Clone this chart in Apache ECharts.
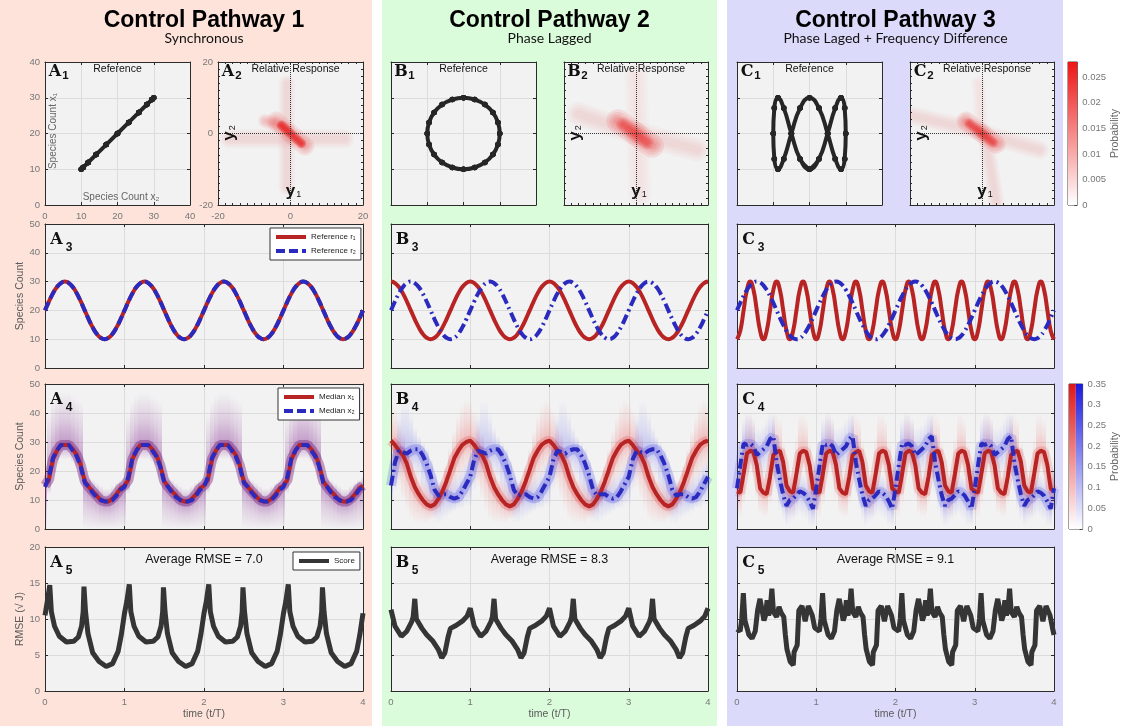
<!DOCTYPE html>
<html>
<head>
<meta charset="utf-8">
<script src="https://cdn.jsdelivr.net/npm/echarts@6/dist/echarts.min.js"></script>
<style>
html, body { margin: 0; padding: 0; background: #fff; }
#chart { width: 1122px; height: 726px; }
</style>
</head>
<body>
<div id="chart"></div>
<script>
// ---------- time grids (t/T) ----------
function steps(dt, n) {
	var out = [];
	for (var i = 0; i <= n; i++) out.push(+(i * dt).toFixed(4));
	return out;
}
var tFine = steps(0.05, 80);     // 0..4, used by A and B rows
var tC = steps(1 / 24, 96);      // 0..4, used by the C rows

// ---------- references r1, r2 ----------
var refA_r1 = [
	20, 23.1, 25.9, 28.1, 29.5, 30, 29.5, 28.1, 25.9, 23.1, 20, 16.9, 14.1, 11.9, 10.5, 10, 10.5, 11.9, 14.1, 16.9,
	20, 23.1, 25.9, 28.1, 29.5, 30, 29.5, 28.1, 25.9, 23.1, 20, 16.9, 14.1, 11.9, 10.5, 10, 10.5, 11.9, 14.1, 16.9,
	20, 23.1, 25.9, 28.1, 29.5, 30, 29.5, 28.1, 25.9, 23.1, 20, 16.9, 14.1, 11.9, 10.5, 10, 10.5, 11.9, 14.1, 16.9,
	20, 23.1, 25.9, 28.1, 29.5, 30, 29.5, 28.1, 25.9, 23.1, 20, 16.9, 14.1, 11.9, 10.5, 10, 10.5, 11.9, 14.1, 16.9,
	20
];
var refA_r2 = refA_r1.slice();
var refB_r1 = [
	30, 29.5, 28.1, 25.9, 23.1, 20, 16.9, 14.1, 11.9, 10.5, 10, 10.5, 11.9, 14.1, 16.9, 20, 23.1, 25.9, 28.1, 29.5,
	30, 29.5, 28.1, 25.9, 23.1, 20, 16.9, 14.1, 11.9, 10.5, 10, 10.5, 11.9, 14.1, 16.9, 20, 23.1, 25.9, 28.1, 29.5,
	30, 29.5, 28.1, 25.9, 23.1, 20, 16.9, 14.1, 11.9, 10.5, 10, 10.5, 11.9, 14.1, 16.9, 20, 23.1, 25.9, 28.1, 29.5,
	30, 29.5, 28.1, 25.9, 23.1, 20, 16.9, 14.1, 11.9, 10.5, 10, 10.5, 11.9, 14.1, 16.9, 20, 23.1, 25.9, 28.1, 29.5,
	30
];
var refB_r2 = refA_r1.slice();
var refC_r1 = [
	10, 12.9, 20, 27.1, 30, 27.1, 20, 12.9, 10, 12.9, 20, 27.1, 30, 27.1, 20, 12.9, 10, 12.9, 20, 27.1, 30, 27.1, 20, 12.9,
	10, 12.9, 20, 27.1, 30, 27.1, 20, 12.9, 10, 12.9, 20, 27.1, 30, 27.1, 20, 12.9, 10, 12.9, 20, 27.1, 30, 27.1, 20, 12.9,
	10, 12.9, 20, 27.1, 30, 27.1, 20, 12.9, 10, 12.9, 20, 27.1, 30, 27.1, 20, 12.9, 10, 12.9, 20, 27.1, 30, 27.1, 20, 12.9,
	10, 12.9, 20, 27.1, 30, 27.1, 20, 12.9, 10, 12.9, 20, 27.1, 30, 27.1, 20, 12.9, 10, 12.9, 20, 27.1, 30, 27.1, 20, 12.9,
	10
];
var refC_r2 = [
	20, 22.6, 25, 27.1, 28.7, 29.7, 30, 29.7, 28.7, 27.1, 25, 22.6, 20, 17.4, 15, 12.9, 11.3, 10.3, 10, 10.3, 11.3, 12.9, 15, 17.4,
	20, 22.6, 25, 27.1, 28.7, 29.7, 30, 29.7, 28.7, 27.1, 25, 22.6, 20, 17.4, 15, 12.9, 11.3, 10.3, 10, 10.3, 11.3, 12.9, 15, 17.4,
	20, 22.6, 25, 27.1, 28.7, 29.7, 30, 29.7, 28.7, 27.1, 25, 22.6, 20, 17.4, 15, 12.9, 11.3, 10.3, 10, 10.3, 11.3, 12.9, 15, 17.4,
	20, 22.6, 25, 27.1, 28.7, 29.7, 30, 29.7, 28.7, 27.1, 25, 22.6, 20, 17.4, 15, 12.9, 11.3, 10.3, 10, 10.3, 11.3, 12.9, 15, 17.4,
	20
];

// ---------- medians x1, x2 and their spread (lo / hi) ----------
var medA_x1 = [
	15, 17, 24, 27, 29, 29, 29, 27.5, 25.5, 22, 16.5, 14.5, 13, 11.5, 10, 9.5, 9.5, 10.5, 12, 14,
	15, 17, 24, 27, 29, 29, 29, 27.5, 25.5, 22, 16.5, 14.5, 13, 11.5, 10, 9.5, 9.5, 10.5, 12, 14,
	15, 17, 24, 27, 29, 29, 29, 27.5, 25.5, 22, 16.5, 14.5, 13, 11.5, 10, 9.5, 9.5, 10.5, 12, 14,
	15, 17, 24, 27, 29, 29, 29, 27.5, 25.5, 22, 16.5, 14.5, 13, 11.5, 10, 9.5, 9.5, 10.5, 12, 14,
	15
];
var medA_x2 = [
	14.5, 18, 24.5, 27, 29, 29, 29, 27, 25, 21.5, 16, 14.5, 12.5, 11, 10, 9.5, 9.5, 10, 11.5, 13.5,
	14.5, 18, 24.5, 27, 29, 29, 29, 27, 25, 21.5, 16, 14.5, 12.5, 11, 10, 9.5, 9.5, 10, 11.5, 13.5,
	14.5, 18, 24.5, 27, 29, 29, 29, 27, 25, 21.5, 16, 14.5, 12.5, 11, 10, 9.5, 9.5, 10, 11.5, 13.5,
	14.5, 18, 24.5, 27, 29, 29, 29, 27, 25, 21.5, 16, 14.5, 12.5, 11, 10, 9.5, 9.5, 10, 11.5, 13.5,
	14.5
];
var spreadA_lo = [
	0, 12, 19, 22, 24, 24, 24, 23, 21, 17, 0, 0, 0, 0, 0, 0, 0, 0, 0, 0,
	0, 12, 19, 22, 24, 24, 24, 23, 21, 17, 0, 0, 0, 0, 0, 0, 0, 0, 0, 0,
	0, 12, 19, 22, 24, 24, 24, 23, 21, 17, 0, 0, 0, 0, 0, 0, 0, 0, 0, 0,
	0, 12, 19, 22, 24, 24, 24, 23, 21, 17, 0, 0, 0, 0, 0, 0, 0, 0, 0, 0,
	0
];
var spreadA_hi = [
	18, 40, 44, 46, 47, 47, 47, 46, 45, 44, 19, 18, 17, 16, 15, 14, 14, 15, 16, 17,
	18, 40, 44, 46, 47, 47, 47, 46, 45, 44, 19, 18, 17, 16, 15, 14, 14, 15, 16, 17,
	18, 40, 44, 46, 47, 47, 47, 46, 45, 44, 19, 18, 17, 16, 15, 14, 14, 15, 16, 17,
	18, 40, 44, 46, 47, 47, 47, 46, 45, 44, 19, 18, 17, 16, 15, 14, 14, 15, 16, 17,
	18
];

var medB_x1 = [
	30.5, 29, 27, 25.5, 22.5, 18, 14.5, 12, 10, 8.5, 7.8, 8.5, 10.5, 13, 16.5, 20.5, 24.5, 27, 29, 30,
	30.5, 29, 27, 25.5, 22.5, 18, 14.5, 12, 10, 8.5, 7.8, 8.5, 10.5, 13, 16.5, 20.5, 24.5, 27, 29, 30,
	30.5, 29, 27, 25.5, 22.5, 18, 14.5, 12, 10, 8.5, 7.8, 8.5, 10.5, 13, 16.5, 20.5, 24.5, 27, 29, 30,
	30.5, 29, 27, 25.5, 22.5, 18, 14.5, 12, 10, 8.5, 7.8, 8.5, 10.5, 13, 16.5, 20.5, 24.5, 27, 29, 30,
	30.5
];
var medB_x2 = [
	15, 23, 27, 26.5, 26, 27, 27.5, 27.5, 25.5, 22.5, 18.5, 13.5, 11.5, 12, 12, 11, 10.5, 11, 13, 15.5,
	18, 24, 27, 26.5, 26, 27, 27.5, 27.5, 25.5, 22.5, 18.5, 13.5, 11.5, 12, 12, 11, 10.5, 11, 13, 15.5,
	18, 24, 27, 26.5, 26, 27, 27.5, 27.5, 25.5, 22.5, 18.5, 13.5, 11.5, 12, 12, 11, 10.5, 11, 13, 15.5,
	18, 24, 27, 26.5, 26, 27, 27.5, 27.5, 25.5, 22.5, 18.5, 13.5, 11.5, 12, 12, 11, 10.5, 11, 13, 15.5,
	18
];
var spreadB1_lo = [
	20, 17, 14, 10, 6, 3, 2, 2, 2, 2, 3, 4, 5, 7, 9, 11, 13, 16, 18, 20,
	20, 17, 14, 10, 6, 3, 2, 2, 2, 2, 3, 4, 5, 7, 9, 11, 13, 16, 18, 20,
	20, 17, 14, 10, 6, 3, 2, 2, 2, 2, 3, 4, 5, 7, 9, 11, 13, 16, 18, 20,
	20, 17, 14, 10, 6, 3, 2, 2, 2, 2, 3, 4, 5, 7, 9, 11, 13, 16, 18, 20,
	20
];
var spreadB1_hi = [
	44, 41, 37, 33, 29, 25, 21, 18, 17, 16, 16, 16, 16, 17, 22, 28, 34, 39, 43, 45,
	44, 41, 37, 33, 29, 25, 21, 18, 17, 16, 16, 16, 16, 17, 22, 28, 34, 39, 43, 45,
	44, 41, 37, 33, 29, 25, 21, 18, 17, 16, 16, 16, 16, 17, 22, 28, 34, 39, 43, 45,
	44, 41, 37, 33, 29, 25, 21, 18, 17, 16, 16, 16, 16, 17, 22, 28, 34, 39, 43, 45,
	44
];
var spreadB2_lo = [
	8, 13, 17, 19, 20, 20, 19, 17, 12, 8, 4, 2, 2, 3, 4, 5, 6, 7, 7, 8,
	8, 13, 17, 19, 20, 20, 19, 17, 12, 8, 4, 2, 2, 3, 4, 5, 6, 7, 7, 8,
	8, 13, 17, 19, 20, 20, 19, 17, 12, 8, 4, 2, 2, 3, 4, 5, 6, 7, 7, 8,
	8, 13, 17, 19, 20, 20, 19, 17, 12, 8, 4, 2, 2, 3, 4, 5, 6, 7, 7, 8,
	8
];
var spreadB2_hi = [
	24, 32, 40, 44, 44, 40, 35, 32, 30, 28, 24, 19, 17, 16, 16, 17, 18, 19, 21, 23,
	24, 32, 40, 44, 44, 40, 35, 32, 30, 28, 24, 19, 17, 16, 16, 17, 18, 19, 21, 23,
	24, 32, 40, 44, 44, 40, 35, 32, 30, 28, 24, 19, 17, 16, 16, 17, 18, 19, 21, 23,
	24, 32, 40, 44, 44, 40, 35, 32, 30, 28, 24, 19, 17, 16, 16, 17, 18, 19, 21, 23,
	24
];

var medC_x1 = [
	13, 12.5, 19, 26, 27, 26.5, 22, 14, 12.5, 12, 18, 25.5, 26.5, 27, 23, 15, 13, 12.5, 19, 26, 27, 26.5, 22, 14,
	13, 12.5, 19, 26, 27, 26.5, 22, 14, 12.5, 12, 18, 25.5, 26.5, 27, 23, 15, 13, 12.5, 19, 26, 27, 26.5, 22, 14,
	13, 12.5, 19, 26, 27, 26.5, 22, 14, 12.5, 12, 18, 25.5, 26.5, 27, 23, 15, 13, 12.5, 19, 26, 27, 26.5, 22, 14,
	13, 12.5, 19, 26, 27, 26.5, 22, 14, 12.5, 12, 18, 25.5, 26.5, 27, 23, 15, 13, 12.5, 19, 26, 27, 26.5, 22, 14,
	13
];
var spreadC1_lo = [
	4, 4, 8, 18, 20, 18, 10, 5, 4, 4, 8, 18, 20, 18, 10, 5, 4, 4, 8, 18, 20, 18, 10, 5,
	4, 4, 8, 18, 20, 18, 10, 5, 4, 4, 8, 18, 20, 18, 10, 5, 4, 4, 8, 18, 20, 18, 10, 5,
	4, 4, 8, 18, 20, 18, 10, 5, 4, 4, 8, 18, 20, 18, 10, 5, 4, 4, 8, 18, 20, 18, 10, 5,
	4, 4, 8, 18, 20, 18, 10, 5, 4, 4, 8, 18, 20, 18, 10, 5, 4, 4, 8, 18, 20, 18, 10, 5,
	4
];
var spreadC1_hi = [
	18, 20, 32, 40, 40, 38, 30, 20, 18, 20, 32, 40, 40, 38, 30, 20, 18, 20, 32, 40, 40, 38, 30, 20,
	18, 20, 32, 40, 40, 38, 30, 20, 18, 20, 32, 40, 40, 38, 30, 20, 18, 20, 32, 40, 40, 38, 30, 20,
	18, 20, 32, 40, 40, 38, 30, 20, 18, 20, 32, 40, 40, 38, 30, 20, 18, 20, 32, 40, 40, 38, 30, 20,
	18, 20, 32, 40, 40, 38, 30, 20, 18, 20, 32, 40, 40, 38, 30, 20, 18, 20, 32, 40, 40, 38, 30, 20,
	18
];
var medC_x2 = [
	14, 22, 29.5, 29, 29.5, 28.5, 25.5, 26.5, 27.5, 28.5, 31, 32, 23, 17, 11.7, 8, 10, 10.5, 11.7, 13, 12.5, 11.5, 9.5, 7,
	14, 22, 29.5, 29, 29.5, 28.5, 25.5, 26.5, 27.5, 28.5, 31, 32, 23, 17, 11.7, 8, 10, 10.5, 11.7, 13, 12.5, 11.5, 9.5, 7,
	14, 22, 29.5, 29, 29.5, 28.5, 25.5, 26.5, 27.5, 28.5, 31, 32, 23, 17, 11.7, 8, 10, 10.5, 11.7, 13, 12.5, 11.5, 9.5, 7,
	14, 22, 29.5, 29, 29.5, 28.5, 25.5, 26.5, 27.5, 28.5, 31, 32, 23, 17, 11.7, 8, 10, 10.5, 11.7, 13, 12.5, 11.5, 9.5, 7,
	14
];
var spreadC2_lo = [
	6, 10, 16, 20, 22, 20, 18, 18, 18, 20, 22, 22, 12, 6, 3, 1, 2, 3, 4, 5, 4, 3, 1, 1,
	6, 10, 16, 20, 22, 20, 18, 18, 18, 20, 22, 22, 12, 6, 3, 1, 2, 3, 4, 5, 4, 3, 1, 1,
	6, 10, 16, 20, 22, 20, 18, 18, 18, 20, 22, 22, 12, 6, 3, 1, 2, 3, 4, 5, 4, 3, 1, 1,
	6, 10, 16, 20, 22, 20, 18, 18, 18, 20, 22, 22, 12, 6, 3, 1, 2, 3, 4, 5, 4, 3, 1, 1,
	6
];
var spreadC2_hi = [
	22, 30, 38, 40, 40, 38, 35, 35, 36, 38, 40, 40, 32, 26, 18, 15, 16, 17, 18, 19, 19, 18, 17, 16,
	22, 30, 38, 40, 40, 38, 35, 35, 36, 38, 40, 40, 32, 26, 18, 15, 16, 17, 18, 19, 19, 18, 17, 16,
	22, 30, 38, 40, 40, 38, 35, 35, 36, 38, 40, 40, 32, 26, 18, 15, 16, 17, 18, 19, 19, 18, 17, 16,
	22, 30, 38, 40, 40, 38, 35, 35, 36, 38, 40, 40, 32, 26, 18, 15, 16, 17, 18, 19, 19, 18, 17, 16,
	22
];

// ---------- relative response ridges: [y1a, y2a, y1b, y2b, probability, spread] ----------
var relA = [
	[-17, -1.5, 15, -1.5, 0.003, 4],
	[-1, 14, -1, -15, 0.003, 3.5],
	[-7, 3.5, -1, 1.2, 0.006, 3],
	[-4, 3.5, 4, -3.5, 0.008, 4],
	[-2.5, 2.3, 3, -2.8, 0.027, 2]
];
var relB = [
	[-16, 5.5, 0, 0, 0.003, 5],
	[0, 0, 17, -4.5, 0.003, 5],
	[0, 16, 1, -17, 0.002, 5],
	[-5, 3.5, 4.5, -3.5, 0.01, 5],
	[-3.5, 2.5, 3, -2.5, 0.013, 3]
];
var relC = [
	[-19.5, 5, 0, 0.5, 0.003, 4],
	[0, 0, 16, -4.6, 0.003, 4],
	[-1, 14, 0, 0, 0.002, 3],
	[1, -1, 4, -19.5, 0.003, 3.5],
	[-4.5, 3.5, 4, -3, 0.01, 4],
	[-3.5, 2.8, 3, -2.5, 0.017, 2.2]
];

// ---------- RMSE score [t, value] ----------
var rmseA = [
	[0, 10.5], [0.03, 12.5], [0.06, 14.7], [0.08, 11], [0.12, 9], [0.18, 7.6], [0.27, 6.8], [0.36, 6.9], [0.42, 7.5], [0.46, 9],
	[0.48, 11], [0.49, 14.5], [0.51, 11], [0.54, 8], [0.6, 5.3], [0.68, 4.1], [0.77, 3.4], [0.85, 3.8], [0.92, 5.5], [0.96, 7.8],
	[1, 10.8], [1.03, 12.5], [1.06, 14.8], [1.08, 11], [1.12, 9], [1.18, 7.6], [1.27, 6.8], [1.36, 6.9], [1.42, 7.5], [1.46, 9],
	[1.48, 11], [1.49, 14.4], [1.51, 11], [1.54, 8], [1.6, 5.3], [1.68, 4.1], [1.77, 3.4], [1.85, 3.8], [1.92, 5.5], [1.96, 7.8],
	[2, 10.8], [2.03, 12.5], [2.06, 14.8], [2.08, 11], [2.12, 9], [2.18, 7.6], [2.27, 6.8], [2.36, 6.9], [2.42, 7.5], [2.46, 9],
	[2.48, 11], [2.49, 14.4], [2.51, 11], [2.54, 8], [2.6, 5.3], [2.68, 4.1], [2.77, 3.4], [2.85, 3.8], [2.92, 5.5], [2.96, 7.8],
	[3, 10.8], [3.03, 12.5], [3.06, 14.8], [3.08, 11], [3.12, 9], [3.18, 7.6], [3.27, 6.8], [3.36, 6.9], [3.42, 7.5], [3.46, 9],
	[3.48, 11], [3.49, 14.4], [3.51, 11], [3.54, 8], [3.6, 5.3], [3.68, 4.1], [3.77, 3.4], [3.85, 3.8], [3.92, 5.5], [3.96, 7.8],
	[4, 10.8]
];
var rmseB = [
	[0, 11.3], [0.05, 9], [0.13, 7.6], [0.2, 8.3], [0.26, 9.6], [0.28, 10.3], [0.3, 12.8], [0.32, 10], [0.39, 8.7], [0.45, 7.8],
	[0.53, 6.9], [0.6, 5.7], [0.64, 4.6], [0.68, 5.3], [0.72, 7.5], [0.75, 8.7], [0.82, 9.1], [0.9, 9.7], [0.96, 10.4],
	[1, 11.5], [1.05, 9], [1.13, 7.6], [1.2, 8.3], [1.26, 9.6], [1.28, 10.3], [1.3, 12.8], [1.32, 10], [1.39, 8.7], [1.45, 7.8],
	[1.53, 6.9], [1.6, 5.7], [1.64, 4.6], [1.68, 5.3], [1.72, 7.5], [1.75, 8.7], [1.82, 9.1], [1.9, 9.7], [1.96, 10.4],
	[2, 11.5], [2.05, 9], [2.13, 7.6], [2.2, 8.3], [2.26, 9.6], [2.28, 10.3], [2.3, 12.8], [2.32, 10], [2.39, 8.7], [2.45, 7.8],
	[2.53, 6.9], [2.6, 5.7], [2.64, 4.6], [2.68, 5.3], [2.72, 7.5], [2.75, 8.7], [2.82, 9.1], [2.9, 9.7], [2.96, 10.4],
	[3, 11.5], [3.05, 9], [3.13, 7.6], [3.2, 8.3], [3.26, 9.6], [3.28, 10.3], [3.3, 12.8], [3.32, 10], [3.39, 8.7], [3.45, 7.8],
	[3.53, 6.9], [3.6, 5.7], [3.64, 4.6], [3.68, 5.3], [3.72, 7.5], [3.75, 8.7], [3.82, 9.1], [3.9, 9.7], [3.96, 10.4],
	[4, 11.5]
];
var rmseC = [
	[0, 8.6], [0.04, 8.3], [0.06, 10], [0.08, 13.6], [0.1, 9.8], [0.15, 7.8], [0.19, 7.3], [0.23, 8.3], [0.26, 11.2], [0.29, 12.8],
	[0.32, 11], [0.34, 9.8], [0.36, 10.5], [0.38, 12.6], [0.4, 10.5], [0.42, 11.5], [0.44, 14.2], [0.46, 11], [0.5, 10.3], [0.53, 11.7],
	[0.56, 10.8], [0.59, 10.3], [0.61, 7.8], [0.63, 5.8], [0.67, 4.1], [0.71, 3.6], [0.72, 5.4], [0.76, 6.4], [0.78, 11.2], [0.82, 11.8],
	[0.86, 9.7], [0.9, 11.8], [0.95, 10.5], [0.98, 8.8],
	[1, 8.6], [1.04, 8.3], [1.06, 10], [1.08, 13.6], [1.1, 9.8], [1.15, 7.8], [1.19, 7.3], [1.23, 8.3], [1.26, 11.2], [1.29, 12.8],
	[1.32, 11], [1.34, 9.8], [1.36, 10.5], [1.38, 12.6], [1.4, 10.5], [1.42, 11.5], [1.44, 14.2], [1.46, 11], [1.5, 10.3], [1.53, 11.7],
	[1.56, 10.8], [1.59, 10.3], [1.61, 7.8], [1.63, 5.8], [1.67, 4.1], [1.71, 3.6], [1.72, 5.4], [1.76, 6.4], [1.78, 11.2], [1.82, 11.8],
	[1.86, 9.7], [1.9, 11.8], [1.95, 10.5], [1.98, 8.8],
	[2, 8.6], [2.04, 8.3], [2.06, 10], [2.08, 13.6], [2.1, 9.8], [2.15, 7.8], [2.19, 7.3], [2.23, 8.3], [2.26, 11.2], [2.29, 12.8],
	[2.32, 11], [2.34, 9.8], [2.36, 10.5], [2.38, 12.6], [2.4, 10.5], [2.42, 11.5], [2.44, 14.2], [2.46, 11], [2.5, 10.3], [2.53, 11.7],
	[2.56, 10.8], [2.59, 10.3], [2.61, 7.8], [2.63, 5.8], [2.67, 4.1], [2.71, 3.6], [2.72, 5.4], [2.76, 6.4], [2.78, 11.2], [2.82, 11.8],
	[2.86, 9.7], [2.9, 11.8], [2.95, 10.5], [2.98, 8.8],
	[3, 8.6], [3.04, 8.3], [3.06, 10], [3.08, 13.6], [3.1, 9.8], [3.15, 7.8], [3.19, 7.3], [3.23, 8.3], [3.26, 11.2], [3.29, 12.8],
	[3.32, 11], [3.34, 9.8], [3.36, 10.5], [3.38, 12.6], [3.4, 10.5], [3.42, 11.5], [3.44, 14.2], [3.46, 11], [3.5, 10.3], [3.53, 11.7],
	[3.56, 10.8], [3.59, 10.3], [3.61, 7.8], [3.63, 5.8], [3.67, 4.1], [3.71, 3.6], [3.72, 5.4], [3.76, 6.4], [3.78, 11.2], [3.82, 11.8],
	[3.86, 9.7], [3.9, 11.8], [3.95, 10.5], [3.98, 8.8],
	[4, 7.8]
];
var avgRmse = ['7.0', '8.3', '9.1'];
var colTitles = ['Control Pathway 1', 'Control Pathway 2', 'Control Pathway 3'];
var colSubtitles = ['Synchronous', 'Phase Lagged', 'Phase Laged + Frequency Difference'];
var probMax1 = [0.028];
var probMax2 = [0.35, 0.35];

// ---------- layout ----------
var FONT = 'Liberation Sans, Arial, sans-serif';
var TAGFONT = 'DejaVu Serif, Liberation Serif, serif';
var RED = '#b82323', BLUE = '#2a2abf', DARK = '#353535';

var grids = [], xAxes = [], yAxes = [], series = [], graphics = [];

function axisOpt(gi, pos, s, main) {
	var isX = pos === 'bottom' || pos === 'top';
	return {
		type: 'value', gridIndex: gi, position: pos, min: s.min, max: s.max, interval: s.step,
		axisLine: { show: true, onZero: false, lineStyle: { color: '#2b2b2b', width: 1 } },
		axisTick: { show: true, inside: true, length: 3, lineStyle: { color: '#2b2b2b', width: 1 } },
		minorTick: { show: !!s.minor, splitNumber: 10, length: 2, lineStyle: { color: '#2b2b2b' } },
		axisLabel: { show: main && !!s.labels, color: '#777', fontSize: 9.5, fontFamily: FONT, margin: isX ? 6 : 5 },
		splitLine: { show: main && !!s.grid, lineStyle: { color: '#dcdcdc', width: 1 } },
		name: main && s.name ? s.name : '', nameLocation: 'middle', nameGap: s.nameGap || 20,
		nameTextStyle: { color: '#5a5a5a', fontSize: 10.5, fontFamily: FONT }
	};
}

function addPanel(rect, xs, ys) {
	var gi = grids.length;
	grids.push({ left: rect[0], top: rect[1], width: rect[2], height: rect[3], show: true,
		backgroundColor: '#f2f2f2', borderWidth: 0 });
	var xi = xAxes.length, yi = yAxes.length;
	xAxes.push(axisOpt(gi, 'bottom', xs, true));
	xAxes.push(axisOpt(gi, 'top', xs, false));
	yAxes.push(axisOpt(gi, 'left', ys, true));
	yAxes.push(axisOpt(gi, 'right', ys, false));
	return { x: xi, y: yi, rect: rect };
}

function addColorbar(rect, cats, max, step) {
	var gi = grids.length;
	grids.push({ left: rect[0], top: rect[1], width: rect[2], height: rect[3], show: true,
		backgroundColor: '#fff', borderColor: '#444', borderWidth: 1 });
	var xi = xAxes.length, yi = yAxes.length;
	xAxes.push({ type: 'category', gridIndex: gi, data: cats, show: false });
	yAxes.push({
		type: 'value', gridIndex: gi, position: 'right', min: 0, max: max, interval: step,
		axisLine: { show: false }, splitLine: { show: false },
		axisTick: { show: true, inside: true, length: 3, lineStyle: { color: '#444' } },
		axisLabel: { color: '#777', fontSize: 9.5, fontFamily: FONT, margin: 5, showMaxLabel: max === 0.35 },
		name: 'Probability', nameLocation: 'middle', nameGap: 26,
		nameTextStyle: { color: '#666', fontSize: 10.5, fontFamily: FONT }
	});
	return { x: xi, y: yi };
}

function zip(xs, ys) { return xs.map(function (x, i) { return [x, ys[i]]; }); }

function lineSeries(p, name, data, color, width, dash, extra) {
	var s = {
		type: 'line', name: name, xAxisIndex: p.x, yAxisIndex: p.y, data: data, symbol: 'none',
		lineStyle: { color: color, width: width, type: dash || 'solid' }, itemStyle: { color: color },
		z: 3, silent: true
	};
	for (var k in extra || {}) s[k] = extra[k];
	return s;
}

function refLoop(p, xs, ys, smooth) {
	return {
		type: 'line', xAxisIndex: p.x, yAxisIndex: p.y, data: zip(xs, ys), smooth: smooth,
		symbol: 'circle', symbolSize: 5.5, showSymbol: true, silent: true,
		lineStyle: { color: '#262626', width: 4 }, itemStyle: { color: '#262626' }, z: 3
	};
}

function ridgeSeries(p, ridges) {
	return {
		type: 'custom', xAxisIndex: p.x, yAxisIndex: p.y, data: ridges, encode: { x: 0, y: 1 },
		silent: true, clip: true, z: 2,
		renderItem: function (params, api) {
			var a = api.coord([api.value(0), api.value(1)]);
			var b = api.coord([api.value(2), api.value(3)]);
			var alpha = Math.min(1, api.value(4) / 0.028);
			var w = api.size([api.value(5), 0])[0];
			var layers = [1.3, 1.0, 0.7, 0.4];
			return {
				type: 'group',
				children: layers.map(function (k) {
					return {
						type: 'line', shape: { x1: a[0], y1: a[1], x2: b[0], y2: b[1] },
						style: { stroke: 'rgba(232,28,28,' + (alpha * 0.3).toFixed(3) + ')', lineWidth: w * k, lineCap: 'round' }
					};
				})
			};
		}
	};
}

function crossSeries(p) {
	return {
		type: 'line', xAxisIndex: p.x, yAxisIndex: p.y, data: [], silent: true,
		markLine: {
			silent: true, symbol: 'none', label: { show: false }, animation: false,
			lineStyle: { type: 'dotted', color: '#333', width: 1 },
			data: [{ xAxis: 0 }, { yAxis: 0 }]
		}
	};
}

function spreadSeries(p, t, lo, mid, hi, rgb, alpha, dt) {
	return {
		type: 'custom', xAxisIndex: p.x, yAxisIndex: p.y, silent: true, clip: true, z: 1,
		data: t.map(function (v, i) { return [v, lo[i], mid[i], hi[i]]; }),
		encode: { x: 0, y: 2 },
		renderItem: function (params, api) {
			var tt = api.value(0);
			var pHi = api.coord([tt, api.value(3)]);
			var pMid = api.coord([tt, api.value(2)]);
			var pLo = api.coord([tt, api.value(1)]);
			var xL = Math.round(api.coord([tt - dt / 2, 0])[0]);
			var xR = Math.round(api.coord([tt + dt / 2, 0])[0]);
			var c = function (a) { return 'rgba(' + rgb + ',' + a + ')'; };
			var kids = [];
			if (pMid[1] - pHi[1] > 0.5) kids.push({
				type: 'rect', shape: { x: xL, y: pHi[1], width: xR - xL, height: pMid[1] - pHi[1] },
				style: { fill: new echarts.graphic.LinearGradient(0, 0, 0, 1, [
					{ offset: 0, color: c(0) }, { offset: 0.5, color: c(alpha * 0.4) }, { offset: 1, color: c(alpha) }]) }
			});
			if (pLo[1] - pMid[1] > 0.5) kids.push({
				type: 'rect', shape: { x: xL, y: pMid[1], width: xR - xL, height: pLo[1] - pMid[1] },
				style: { fill: new echarts.graphic.LinearGradient(0, 0, 0, 1, [
					{ offset: 0, color: c(alpha) }, { offset: 0.5, color: c(alpha * 0.4) }, { offset: 1, color: c(0) }]) }
			});
			return { type: 'group', children: kids };
		}
	};
}

function text(x, y, str, o) {
	o = o || {};
	graphics.push({
		type: 'text', x: x, y: y, rotation: o.rot || 0, z: 100, silent: true,
		style: {
			text: str, fill: o.color || '#111', fontSize: o.size || 10, fontFamily: o.family || FONT,
			fontWeight: o.weight || 'normal', align: o.align || 'center', textAlign: o.align || 'center',
			verticalAlign: 'middle', textVerticalAlign: 'middle', rich: o.rich
		}
	});
}

function panelTag(rect, letter, digit, small) {
	text(rect[0] + (small ? 10 : 11.5), rect[1] + (small ? 9.5 : 15.5), letter, { size: 16, family: TAGFONT, weight: 'bold' });
	text(rect[0] + (small ? 20.5 : 24), rect[1] + (small ? 13.5 : 24), digit, { size: small ? 11.5 : 12, weight: 'bold' });
}

// column backgrounds
graphics.push({ type: 'rect', z: -10, silent: true, shape: { x: 0, y: 0, width: 372, height: 726 }, style: { fill: '#fde3d9' } });
graphics.push({ type: 'rect', z: -10, silent: true, shape: { x: 382, y: 0, width: 335, height: 726 }, style: { fill: '#dbfcdb' } });
graphics.push({ type: 'rect', z: -10, silent: true, shape: { x: 727, y: 0, width: 336, height: 726 }, style: { fill: '#dcdafa' } });

var cols = [
	{ key: 'A', left: 45, width: 318, small: [[45, 62, 145, 143], [218, 62, 145, 143]] },
	{ key: 'B', left: 391, width: 317, small: [[391, 62, 145, 143], [564, 62, 144, 143]] },
	{ key: 'C', left: 737, width: 317, small: [[737, 62, 145, 143], [910, 62, 144, 143]] }
];
var ROW3 = [224, 144], ROW4 = [384, 145], ROW5 = [547, 144];

var refX = [[refA_r2, refA_r1], [refB_r2, refB_r1], [refC_r2, refC_r1]];
var relData = [relA, relB, relC];
var refRows = [[tFine, refA_r1, tFine, refA_r2], [tFine, refB_r1, tFine, refB_r2], [tC, refC_r1, tC, refC_r2]];
var rmseRows = [rmseA, rmseB, rmseC];

cols.forEach(function (col, ci) {
	var first = ci === 0;
	var cx = col.left + col.width / 2;
	text(cx, 21, colTitles[ci], { size: 23, weight: 'bold', color: '#000' });
	text(cx, 38, colSubtitles[ci], { size: 14, family: 'Lato, Open Sans, sans-serif', color: '#111' });

	// reference loop
	var r1 = col.small[0];
	var p1 = addPanel(r1, { min: 0, max: 40, step: 10, grid: true, labels: first }, { min: 0, max: 40, step: 10, grid: true, labels: first });
	series.push(refLoop(p1, refX[ci][0], refX[ci][1], ci > 0));
	panelTag(r1, col.key, '1', true);
	text(r1[0] + r1[2] / 2, r1[1] + 7, 'Reference', { size: 10.5 });
	if (first) {
		text(r1[0] + 8, r1[1] + 69, 'Species Count x\u2081', { size: 10, color: '#666', rot: Math.PI / 2 });
		text(r1[0] + 76, r1[1] + 135, 'Species Count x\u2082', { size: 10, color: '#666' });
	}

	// relative response
	var r2 = col.small[1];
	var p2 = addPanel(r2, { min: -20, max: 20, step: 20, minor: true, labels: first }, { min: -20, max: 20, step: 20, minor: true, labels: first });
	series.push(ridgeSeries(p2, relData[ci]));
	series.push(crossSeries(p2));
	panelTag(r2, col.key, '2', true);
	text(r2[0] + r2[2] / 2 + 5, r2[1] + 7, 'Relative Response', { size: 10.5 });
	var yRich = { y: { fontSize: 17, fontWeight: 'bold', color: '#555', fontFamily: FONT }, s: { fontSize: 9, color: '#555', fontFamily: FONT, padding: [8, 0, 0, 1] } };
	text(r2[0] + r2[2] / 2 + 3, r2[1] + 129, '{y|y}{s|1}', { rich: yRich });
	text(r2[0] + 11, r2[1] + 71, '{y|y}{s|2}', { rich: yRich, rot: Math.PI / 2 });

	// references r1, r2 over time
	var p3 = addPanel([col.left, ROW3[0], col.width, ROW3[1]],
		{ min: 0, max: 4, step: 1, grid: true },
		{ min: 0, max: 50, step: 10, grid: true, labels: first, name: first ? 'Species Count' : '', nameGap: 15 });
	var rr = refRows[ci];
	series.push(lineSeries(p3, 'Reference r\u2081', zip(rr[0], rr[1]), RED, 4, 'solid', { smooth: true }));
	series.push(lineSeries(p3, 'Reference r\u2082', zip(rr[2], rr[3]), BLUE, 4, first ? [9, 4] : [10, 4, 2, 4], { smooth: true, z: 4 }));
	panelTag([col.left, ROW3[0]], col.key, '3', false);

	// median responses with spread
	var p4 = addPanel([col.left, ROW4[0], col.width, ROW4[1]],
		{ min: 0, max: 4, step: 1, grid: true },
		{ min: 0, max: 50, step: 10, grid: true, labels: first, name: first ? 'Species Count' : '', nameGap: 15 });
	panelTag([col.left, ROW4[0]], col.key, '4', false);

	// score
	var p5 = addPanel([col.left, ROW5[0], col.width, ROW5[1]],
		{ min: 0, max: 4, step: 1, grid: true, labels: true, name: 'time (t/T)', nameGap: 18 },
		{ min: 0, max: 20, step: 5, grid: true, labels: first, name: first ? 'RMSE (\u221a J)' : '', nameGap: 13 });
	series.push(lineSeries(p5, 'Score', rmseRows[ci], DARK, 5, 'solid'));
	panelTag([col.left, ROW5[0]], col.key, '5', false);
	text(cx, ROW5[0] + 13, 'Average RMSE = ' + avgRmse[ci], { size: 12.5 });

	col.p4 = p4;
});

// row 4 spreads and medians
var pA4 = cols[0].p4, pB4 = cols[1].p4, pC4 = cols[2].p4;
series.push(spreadSeries(pA4, tFine, spreadA_lo, medA_x1, spreadA_hi, '130,40,145', 0.45, 0.05));
series.push(lineSeries(pA4, 'halo A', zip(tFine, medA_x1), 'rgba(110,20,120,0.4)', 10, 'solid', { z: 2 }));
series.push(lineSeries(pA4, 'Median x\u2081', zip(tFine, medA_x1), RED, 4, 'solid'));
series.push(lineSeries(pA4, 'Median x\u2082', zip(tFine, medA_x2), BLUE, 4, [9, 4], { z: 4 }));

series.push(spreadSeries(pB4, tFine, spreadB1_lo, medB_x1, spreadB1_hi, '235,40,40', 0.28, 0.05));
series.push(spreadSeries(pB4, tFine, spreadB2_lo, medB_x2, spreadB2_hi, '40,40,235', 0.25, 0.05));
series.push(lineSeries(pB4, 'halo B1', zip(tFine, medB_x1), 'rgba(220,40,40,0.2)', 10, 'solid', { z: 2 }));
series.push(lineSeries(pB4, 'halo B2', zip(tFine, medB_x2), 'rgba(40,40,220,0.2)', 10, 'solid', { z: 2 }));
series.push(lineSeries(pB4, 'Median x\u2081', zip(tFine, medB_x1), RED, 4, 'solid'));
series.push(lineSeries(pB4, 'Median x\u2082', zip(tFine, medB_x2), BLUE, 4, [10, 4, 2, 4], { z: 4 }));

series.push(spreadSeries(pC4, tC, spreadC1_lo, medC_x1, spreadC1_hi, '235,40,40', 0.24, 1 / 24));
series.push(spreadSeries(pC4, tC, spreadC2_lo, medC_x2, spreadC2_hi, '40,40,235', 0.22, 1 / 24));
series.push(lineSeries(pC4, 'halo C1', zip(tC, medC_x1), 'rgba(220,40,40,0.16)', 10, 'solid', { z: 2 }));
series.push(lineSeries(pC4, 'halo C2', zip(tC, medC_x2), 'rgba(40,40,220,0.16)', 10, 'solid', { z: 2 }));
series.push(lineSeries(pC4, 'Median x\u2081', zip(tC, medC_x1), RED, 4, 'solid'));
series.push(lineSeries(pC4, 'Median x\u2082', zip(tC, medC_x2), BLUE, 4, [10, 4, 2, 4], { z: 4 }));

// colorbars
var cb1 = addColorbar([1068, 62, 15, 143], ['p'], 0.028, 0.005);
series.push({
	type: 'bar', xAxisIndex: cb1.x, yAxisIndex: cb1.y, barWidth: '100%', silent: true,
	data: probMax1.map(function (v) {
		return { value: v, itemStyle: { color: new echarts.graphic.LinearGradient(0, 0, 0, 1, [{ offset: 0, color: '#ee1414' }, { offset: 1, color: '#ffffff' }]) } };
	})
});
var cb2 = addColorbar([1069, 384, 15, 145], ['x1', 'x2'], 0.35, 0.05);
var cb2Top = ['#e11616', '#1a1ae0'];
series.push({
	type: 'bar', xAxisIndex: cb2.x, yAxisIndex: cb2.y, barWidth: '100%', barGap: 0, silent: true,
	data: probMax2.map(function (v, i) {
		return { value: v, itemStyle: { color: new echarts.graphic.LinearGradient(0, 0, 0, 1, [{ offset: 0, color: cb2Top[i] }, { offset: 1, color: '#ffffff' }]) } };
	})
});

function legendBox(names, left, top) {
	return {
		data: names, left: left, top: top, orient: 'vertical', selectedMode: false,
		itemWidth: 30, itemHeight: 9, itemGap: 6, padding: [5, 5, 5, 4],
		backgroundColor: '#fff', borderColor: '#333', borderWidth: 1, borderRadius: 0,
		lineStyle: { width: 4 },
		itemStyle: { opacity: 0, color: 'transparent', borderWidth: 0 },
		textStyle: { fontSize: 8, color: '#222', fontFamily: FONT }
	};
}

var chart = echarts.init(document.getElementById('chart'));
chart.setOption({
	animation: false,
	textStyle: { fontFamily: FONT },
	grid: grids,
	xAxis: xAxes,
	yAxis: yAxes,
	legend: [
		legendBox(['Reference r\u2081', 'Reference r\u2082'], 270, 228),
		legendBox(['Median x\u2081', 'Median x\u2082'], 278, 388),
		legendBox(['Score'], 293, 552)
	],
	graphic: { elements: graphics },
	series: series
});
</script>
</body>
</html>
